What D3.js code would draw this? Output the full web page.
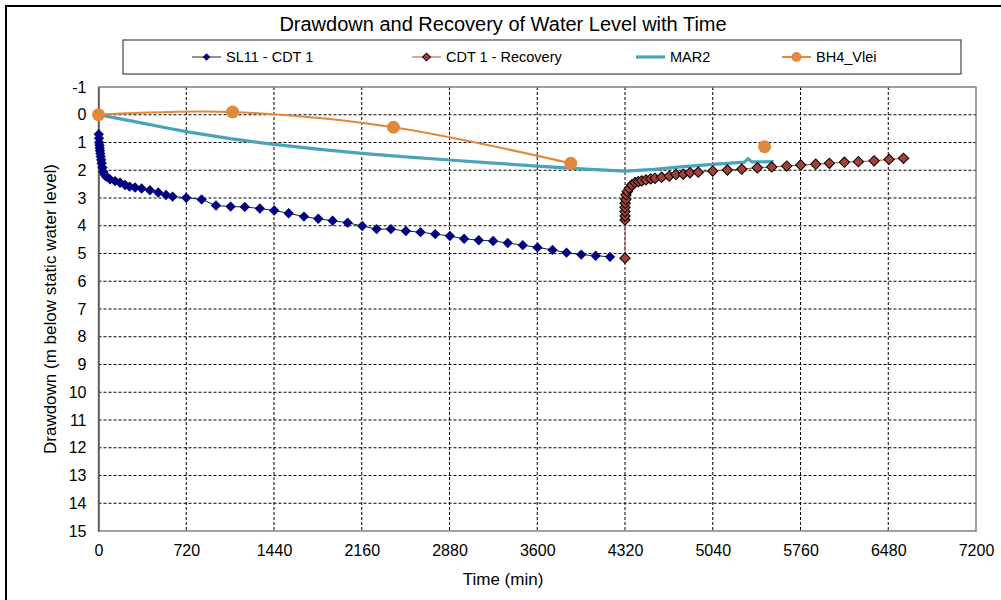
<!DOCTYPE html>
<html>
<head>
<meta charset="utf-8">
<script src="https://cdn.jsdelivr.net/npm/d3@7"></script>
<style>
  body { margin: 0; background: #fff; }
  svg { font-family: "Liberation Sans", Arial, sans-serif; }
</style>
</head>
<body>
<svg id="chart" width="1001" height="600"></svg>
<script>
// tick labels
const xTicks = [0, 720, 1440, 2160, 2880, 3600, 4320, 5040, 5760, 6480, 7200];
const yTicks = d3.range(-1, 16);

// SL11 - CDT 1 : [time (min), drawdown (m)]
const sl11 = [
  [2, 0.7], [4, 0.85], [6, 1.0], [8, 1.1], [10, 1.2], [12, 1.3], [15, 1.4], [18, 1.5],
  [22, 1.62], [26, 1.75], [32, 1.9], [40, 2.05], [50, 2.15], [62, 2.23], [95, 2.33],
  [136, 2.39], [177, 2.45], [218, 2.53], [255, 2.59], [300, 2.62], [354, 2.66],
  [422, 2.72], [490, 2.8], [554, 2.89], [608, 2.95], [720, 2.99], [846, 3.05],
  [964, 3.27], [1084, 3.31], [1200, 3.32], [1324, 3.38], [1442, 3.45], [1560, 3.55],
  [1686, 3.67], [1803, 3.75], [1921, 3.82], [2044, 3.89], [2164, 4.01], [2282, 4.12],
  [2399, 4.12], [2522, 4.19], [2642, 4.23], [2763, 4.3], [2883, 4.37], [3000, 4.47],
  [3120, 4.52], [3238, 4.55], [3358, 4.62], [3481, 4.7], [3602, 4.78], [3725, 4.87],
  [3840, 4.97], [3961, 5.04], [4079, 5.08], [4197, 5.12]
];

// CDT 1 - Recovery
const recovery = [
  [4320, 5.17], [4320, 3.79], [4320, 3.65], [4320, 3.49], [4320, 3.34], [4321, 3.19],
  [4326, 3.05], [4328, 2.89], [4339, 2.77], [4355, 2.65], [4375, 2.53], [4402, 2.45],
  [4429, 2.41], [4457, 2.38], [4492, 2.35], [4531, 2.31], [4566, 2.29], [4621, 2.25],
  [4683, 2.21], [4738, 2.15], [4798, 2.14], [4853, 2.09], [4921, 2.07], [5040, 2.03],
  [5160, 1.99], [5278, 1.96], [5406, 1.91], [5524, 1.88], [5647, 1.85], [5762, 1.81],
  [5885, 1.78], [5997, 1.75], [6120, 1.71], [6235, 1.69], [6364, 1.66], [6487, 1.61],
  [6605, 1.57]
];

// MAR2
const mar2 = [
  [0, 0], [180, 0.15], [360, 0.3], [540, 0.46], [720, 0.61], [1080, 0.86], [1440, 1.07],
  [1800, 1.24], [2160, 1.39], [2520, 1.52], [2880, 1.63], [3240, 1.74], [3600, 1.85],
  [3960, 1.95], [4320, 2.03], [4560, 1.97], [4800, 1.87], [5040, 1.79], [5300, 1.71],
  [5330, 1.58], [5360, 1.7], [5540, 1.69]
];

// BH4_Vlei (gap before last reading)
const bh4 = [[0, 0], [1100, -0.1], [2420, 0.45], [3875, 1.75], [4600, null], [5465, 1.15]];

const svg = d3.select("#chart");
const plot = { left: 98.5, right: 976, top: 87, bottom: 531 };

const x = d3.scaleLinear().domain([0, 7200]).range([plot.left, plot.right]);
const y = d3.scaleLinear().domain([-1, 15]).range([plot.top, plot.bottom]);

// outer frame
svg.append("rect")
  .attr("x", 6).attr("y", 6).attr("width", 1100).attr("height", 700)
  .attr("fill", "#fff").attr("stroke", "#000").attr("stroke-width", 2);

// title
svg.append("text")
  .attr("x", 503).attr("y", 31)
  .attr("text-anchor", "middle")
  .attr("font-size", 20)
  .attr("fill", "#000")
  .text("Drawdown and Recovery of Water Level with Time");

// grid
const grid = svg.append("g");
grid.selectAll("line.h").data(yTicks.slice(1, -1)).join("line")
  .attr("x1", plot.left).attr("x2", plot.right)
  .attr("y1", d => y(d)).attr("y2", d => y(d))
  .attr("stroke", "#000").attr("stroke-width", 1).attr("stroke-dasharray", "3,2");
grid.selectAll("line.v").data(xTicks.slice(1, -1)).join("line")
  .attr("y1", plot.top).attr("y2", plot.bottom)
  .attr("x1", d => x(d)).attr("x2", d => x(d))
  .attr("stroke", "#000").attr("stroke-width", 1).attr("stroke-dasharray", "3,2");

// plot border
svg.append("rect")
  .attr("x", plot.left).attr("y", plot.top)
  .attr("width", plot.right - plot.left).attr("height", plot.bottom - plot.top)
  .attr("fill", "none").attr("stroke", "#808080").attr("stroke-width", 1.5);

// axes
const xAxis = svg.append("g")
  .attr("transform", `translate(0, ${plot.bottom})`)
  .call(d3.axisBottom(x).tickValues(xTicks).tickFormat(d => String(d)).tickSize(0).tickPadding(14));
const yAxis = svg.append("g")
  .attr("transform", `translate(${plot.left}, 0)`)
  .call(d3.axisLeft(y).tickValues(yTicks).tickFormat(d => String(d)).tickSize(0).tickPadding(12));
[xAxis, yAxis].forEach(a => {
  a.select(".domain").attr("stroke", "#555").attr("stroke-width", 1.5);
  a.selectAll("text").attr("font-size", 16).attr("fill", "#000")
    .attr("font-family", "Liberation Sans, Arial, sans-serif");
});
xAxis.select(".domain").remove();

svg.append("text")
  .attr("x", 503).attr("y", 585)
  .attr("text-anchor", "middle").attr("font-size", 17)
  .text("Time (min)");
svg.append("text")
  .attr("transform", `translate(56, ${(plot.top + plot.bottom) / 2}) rotate(-90)`)
  .attr("text-anchor", "middle").attr("font-size", 17)
  .text("Drawdown (m below static water level)");

const line = d3.line().x(d => x(d[0])).y(d => y(d[1]));
const diamond = d3.symbol().type(d3.symbolSquare).size(54);
const marks = svg.append("g");

// MAR2
marks.append("path").datum(mar2)
  .attr("d", line).attr("fill", "none")
  .attr("stroke", "#4aa3b9").attr("stroke-width", 3.2).attr("stroke-linejoin", "round");

// BH4_Vlei
marks.append("path").datum(bh4)
  .attr("d", d3.line().defined(d => d[1] !== null)
    .x(d => x(d[0])).y(d => y(d[1])).curve(d3.curveCardinal.tension(0)))
  .attr("fill", "none").attr("stroke", "#e0883c").attr("stroke-width", 2);
marks.selectAll("circle.bh4").data(bh4.filter(d => d[1] !== null)).join("circle")
  .attr("cx", d => x(d[0])).attr("cy", d => y(d[1])).attr("r", 6.5)
  .attr("fill", "#e0883c");

// SL11 - CDT 1
marks.append("path").datum(sl11)
  .attr("d", line).attr("fill", "none").attr("stroke", "#222").attr("stroke-width", 1);
marks.selectAll("path.sl11").data(sl11).join("path")
  .attr("d", diamond)
  .attr("transform", d => `translate(${x(d[0])}, ${y(d[1])}) rotate(45)`)
  .attr("fill", "#000080");

// CDT 1 - Recovery
marks.append("path").datum(recovery)
  .attr("d", line).attr("fill", "none").attr("stroke", "#a0504a").attr("stroke-width", 1);
marks.selectAll("path.rec").data(recovery).join("path")
  .attr("d", diamond)
  .attr("transform", d => `translate(${x(d[0])}, ${y(d[1])}) rotate(45)`)
  .attr("fill", "#a0413a").attr("stroke", "#000").attr("stroke-width", 1);

// legend
const legend = svg.append("g");
legend.append("rect")
  .attr("x", 123).attr("y", 40).attr("width", 838).attr("height", 34)
  .attr("fill", "#fff").attr("stroke", "#444").attr("stroke-width", 1.2);
const items = [
  { name: "SL11 - CDT 1", x: 192, stroke: "#222", sw: 1, mark: "d", fill: "#000080", outline: "none" },
  { name: "CDT 1 - Recovery", x: 412, stroke: "#a0504a", sw: 1, mark: "d", fill: "#a0413a", outline: "#000" },
  { name: "MAR2", x: 636, stroke: "#4aa3b9", sw: 3.2, mark: null },
  { name: "BH4_Vlei", x: 782, stroke: "#e0883c", sw: 2, mark: "c", fill: "#e0883c" }
];
const li = legend.selectAll("g.item").data(items).join("g")
  .attr("transform", d => `translate(${d.x}, 57)`);
li.append("line").attr("x1", 0).attr("x2", 29)
  .attr("stroke", d => d.stroke).attr("stroke-width", d => d.sw);
li.filter(d => d.mark === "d").append("path")
  .attr("d", d3.symbol().type(d3.symbolSquare).size(30))
  .attr("transform", "translate(14.5, 0) rotate(45)")
  .attr("fill", d => d.fill).attr("stroke", d => d.outline);
li.filter(d => d.mark === "c").append("circle")
  .attr("cx", 14.5).attr("r", 5).attr("fill", d => d.fill);
li.append("text").attr("x", 34).attr("dy", "0.35em")
  .attr("font-size", 14.5).text(d => d.name);
</script>
</body>
</html>
